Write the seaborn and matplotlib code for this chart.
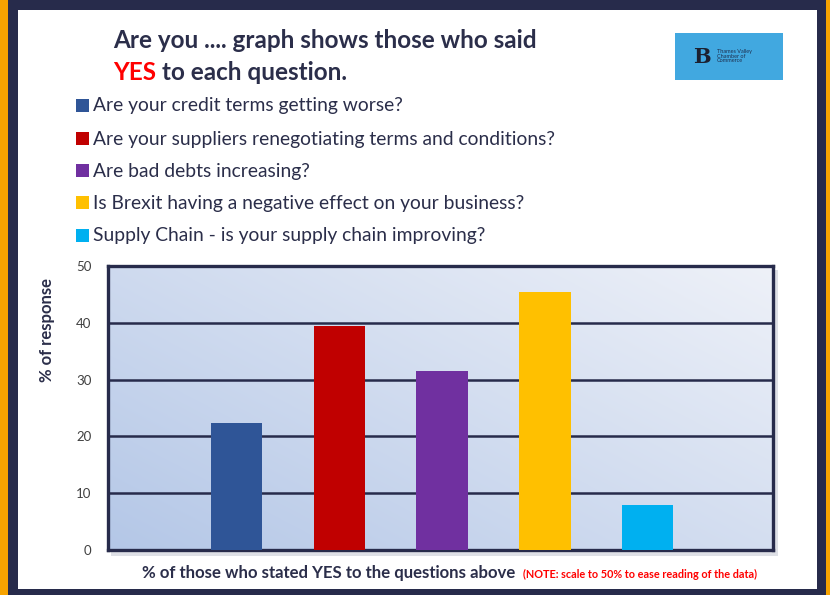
import numpy as np
import pandas as pd
import matplotlib
matplotlib.use("Agg")
import matplotlib.pyplot as plt
from matplotlib.patches import Rectangle
from matplotlib.colors import to_rgb
import seaborn as sns

# Survey questions, share answering YES (%), and bar colours
questions = [
    "Are your credit terms getting worse?",
    "Are your suppliers renegotiating terms and conditions?",
    "Are bad debts increasing?",
    "Is Brexit having a negative effect on your business?",
    "Supply Chain - is your supply chain improving?",
]
yes_share = [22.4, 39.4, 31.5, 45.4, 7.9]
bar_colors = ["#2f5597", "#c00000", "#7030a0", "#ffc000", "#00b0f0"]
y_ticks = [0, 10, 20, 30, 40, 50]

NAVY = "#272b4b"
TEXT = "#2b2e4a"
W, H = 830, 595

sns.set_theme(style="white")
plt.rcParams["font.family"] = ["Lato", "DejaVu Sans"]

fig = plt.figure(figsize=(W / 100, H / 100), dpi=100)
fig.patch.set_facecolor("white")


def px_rect(x0, y0, x1, y1, **kw):
    """Rectangle given in pixel coordinates measured from the top-left."""
    r = Rectangle((x0 / W, 1 - y1 / H), (x1 - x0) / W, (y1 - y0) / H,
                  transform=fig.transFigure, **kw)
    fig.add_artist(r)
    return r


def px_text(x, y, s, **kw):
    return fig.text(x / W, 1 - y / H, s, **kw)


# Slide frame
px_rect(0, 0, 8, H, color="#f7a300", lw=0, zorder=0)
px_rect(8, 0, 18, H, color=NAVY, lw=0, zorder=0)
px_rect(8, 0, 826, 10, color=NAVY, lw=0, zorder=0)
px_rect(817, 0, 826, H, color=NAVY, lw=0, zorder=0)
px_rect(826, 0, W, H, color="#f7a300", lw=0, zorder=0)
px_rect(8, 589, 826, H, color=NAVY, lw=0, zorder=0)

# Title
px_text(113, 40, "Are you .... graph shows those who said", fontsize=17.5,
        fontweight="bold", color=TEXT, va="center", ha="left")
t_yes = px_text(113, 72, "YES", fontsize=17.5, fontweight="bold",
                color="#ff0000", va="center", ha="left")
renderer = fig.canvas.get_renderer()
yes_right = t_yes.get_window_extent(renderer).x1
px_text(yes_right + 6, 72, "to each question.", fontsize=17.5,
        fontweight="bold", color=TEXT, va="center", ha="left")

# Logo block
px_rect(675, 33, 783, 80, color="#41a8e0", lw=0, zorder=1)
px_text(702, 57, "B", fontsize=15, fontweight="bold", color="#1c2130",
        ha="center", va="center", family="DejaVu Serif", zorder=2)
px_text(717, 56, "Thames Valley\nChamber of\nCommerce", fontsize=4,
        color="#1e3050", ha="left", va="center", linespacing=0.95, zorder=2)

# Question key
row_y = [106, 139, 171, 203, 236]
for q, c, yy in zip(questions, bar_colors, row_y):
    px_rect(76, yy - 7, 89, yy + 6, color=c, lw=0, zorder=2)
    px_text(93, yy, q, fontsize=13.9, color=TEXT, ha="left", va="center")

# Plot area
ax_l, ax_r, ax_t, ax_b = 108, 773, 266, 550
# soft drop shadow behind the plot frame
px_rect(ax_l + 3, ax_t + 4, ax_r + 5, ax_b + 6, color="#c9ccd6", lw=0,
        alpha=0.6, zorder=1)
ax = fig.add_axes([ax_l / W, 1 - ax_b / H, (ax_r - ax_l) / W, (ax_b - ax_t) / H])
ax.set_zorder(3)

df = pd.DataFrame({"question": questions, "yes": yes_share})
sns.barplot(data=df, x="question", y="yes", hue="question",
            palette=bar_colors, width=0.5, legend=False, ax=ax,
            saturation=1, linewidth=0, edgecolor="none", zorder=3)

xlim = (-1.25, 5.22)
ylim = (0, 50)

# Diagonal light-blue gradient fill
nx, ny = 200, 120
gx, gy = np.meshgrid(np.linspace(0, 1, nx), np.linspace(0, 1, ny))
t = np.clip(0.55 * gx + 0.45 * gy, 0, 1)
c0 = np.array(to_rgb("#b4c7e7"))
c1 = np.array(to_rgb("#eef1f8"))
grad = c0[None, None, :] * (1 - t[..., None]) + c1[None, None, :] * t[..., None]
ax.imshow(grad, extent=(*xlim, *ylim), origin="lower", aspect="auto",
          zorder=0, interpolation="bilinear")
ax.set_xlim(*xlim)
ax.set_ylim(*ylim)

ax.set_yticks(y_ticks)
ax.set_yticklabels([str(v) for v in y_ticks], fontsize=9.5, color="#404040")
ax.tick_params(axis="y", length=0, pad=12)
ax.set_xticks([])
ax.set_xlabel("")
ax.set_ylabel("")
for v in y_ticks[1:-1]:
    ax.axhline(v, color=NAVY, lw=1.8, zorder=1)
for s in ax.spines.values():
    s.set_visible(True)
    s.set_color(NAVY)
    s.set_linewidth(2.4)

# Axis captions
px_text(47, 330, "% of response", rotation=90, fontsize=12, fontweight="bold",
        color=TEXT, ha="center", va="center")
px_text(142, 573, "% of those who stated YES to the questions above",
        fontsize=12.1, fontweight="bold", color=TEXT, ha="left", va="center")
px_text(523, 574, "(NOTE: scale to 50% to ease reading of the data)",
        fontsize=7.8, fontweight="bold", color="#ff0000", ha="left", va="center")

fig.savefig("out.png", dpi=100, facecolor=fig.get_facecolor())
